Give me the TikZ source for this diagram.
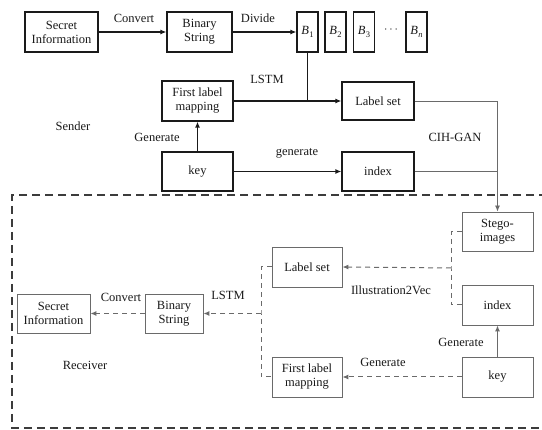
\documentclass[tikz,border=0pt]{standalone}
\usepackage{fontspec}
\setmainfont{Liberation Serif}
\newfontfamily\tnr{Liberation Serif}
\usetikzlibrary{arrows.meta}
\definecolor{ink}{HTML}{1A1A1A}
\definecolor{soft}{HTML}{6A6A6A}
\newcommand{\bvar}[1]{\textit{B}\kern0.5pt\raisebox{-2.5pt}{\fontsize{8.5}{9}\selectfont #1}}
\tikzset{
  box/.style={draw=ink, line width=1.2pt, fill=white, align=center, inner sep=1pt,
    font=\tnr\fontsize{12.5}{14}\selectfont, text=ink},
  rbox/.style={box, draw=soft, line width=0.9pt},
  lbl/.style={font=\tnr\fontsize{12.5}{14}\selectfont, text=ink, inner sep=0pt},
  arr/.style={draw=ink, line width=1.2pt, -{Latex[length=6pt,width=5pt]}},
  thinline/.style={draw=soft, line width=0.8pt},
  darr/.style={draw=soft, line width=1pt, dash pattern=on 5pt off 4pt, -{Latex[length=6pt,width=5pt]}},
  dline/.style={draw=soft, line width=1pt, dash pattern=on 5pt off 4pt},
}
\begin{document}
\begin{tikzpicture}[x=1pt, y=-1pt]
\useasboundingbox (0,0) rectangle (542,430);

% receiver frame (right side runs off the page)
\draw[draw=ink!85, line width=1.2pt, dash pattern=on 8pt off 5pt]
  (560,195) -- (12,195) -- (12,428) -- (560,428);

% ---- sender ----
\node[box, minimum width=73pt, minimum height=40pt] (si1) at (61.5,32) {Secret\\Information};
\node[box, minimum width=65pt, minimum height=40pt] (bs1) at (199.5,32) {Binary\\String};
\node[box, minimum width=21pt, minimum height=40pt] (b1) at (307.5,32) {\bvar{1}};
\node[box, minimum width=21pt, minimum height=40pt] (b2) at (335.5,32) {\bvar{2}};
\node[box, minimum width=21pt, minimum height=40pt] (b3) at (364,32) {\bvar{3}};
\node[lbl] (dots) at (391,30) {$\cdots$};
\node[box, minimum width=21pt, minimum height=40pt] (bn) at (416.5,32) {\bvar{\textit{n}}};

\node[box, minimum width=71pt, minimum height=40pt] (flm1) at (197.5,101) {First label\\mapping};
\node[box, minimum width=72pt, minimum height=38pt] (ls1) at (378,101) {Label set};
\node[box, minimum width=71pt, minimum height=39pt] (key1) at (197.5,171.5) {key};
\node[box, minimum width=72pt, minimum height=39pt] (idx1) at (378,171.5) {index};
\node[rbox, minimum width=71pt, minimum height=39pt] (stego) at (497.5,231.5) {Stego-\\images};

\node[lbl] (tconv1) at (134,18) {Convert};
\node[lbl] (tdiv) at (258,18) {Divide};
\node[lbl] (tlstm1) at (267,79) {LSTM};
\node[lbl] (tsend) at (73,126) {Sender};
\node[lbl] (tgen1) at (157,137) {Generate};
\node[lbl] (tgen2) at (297,153) {generate};
\node[lbl] (tgan) at (455,137) {CIH-GAN};

\draw[arr] (si1.east) -- (bs1.west);
\draw[arr] (bs1.east) -- (b1.west);
\draw[arr] (flm1.east) -- (ls1.west);
\draw[draw=ink, line width=1.2pt] (b1.south) -- (b1.south |- ls1.west);
\draw[arr] (key1.north) -- (flm1.south);
\draw[arr] (key1.east) -- (idx1.west);
\draw[thinline, -{Latex[length=6pt,width=5pt]}] (ls1.east) -| (stego.north);
\draw[thinline] (idx1.east) -| (stego.north |- idx1.east);

% ---- receiver ----
\node[rbox, minimum width=70pt, minimum height=40pt] (ls2) at (307,267) {Label set};
\node[rbox, minimum width=71pt, minimum height=40pt] (idx2) at (497.5,305) {index};
\node[rbox, minimum width=71pt, minimum height=40pt] (key2) at (497.5,377) {key};
\node[rbox, minimum width=70pt, minimum height=40pt] (flm2) at (307,377) {First label\\mapping};
\node[rbox, minimum width=58pt, minimum height=39pt] (bs2) at (174,313.5) {Binary\\String};
\node[rbox, minimum width=73pt, minimum height=39pt] (si2) at (53.5,313.5) {Secret\\Information};

\node[lbl] (till) at (391,290) {Illustration2Vec};
\node[lbl] (tgen3) at (461,342) {Generate};
\node[lbl] (tgen4) at (383,362) {Generate};
\node[lbl] (tlstm2) at (228,295) {LSTM};
\node[lbl] (tconv2) at (121,297) {Convert};
\node[lbl] (trecv) at (85,365) {Receiver};

\coordinate (j1) at (451,268);
\coordinate (j2) at (261,313.5);
\draw[dline] (stego.west) -| (j1) |- (idx2.west);
\draw[darr] (j1) -- (ls2.east);
\draw[dline] (ls2.west) -| (j2) |- (flm2.west);
\draw[darr] (j2) -- (bs2.east);
\draw[darr] (bs2.west) -- (si2.east);
\draw[darr] (key2.west) -- (flm2.east);
\draw[draw=soft, line width=1pt, -{Latex[length=6pt,width=5pt]}] (key2.north) -- (idx2.south);
\end{tikzpicture}
\end{document}
